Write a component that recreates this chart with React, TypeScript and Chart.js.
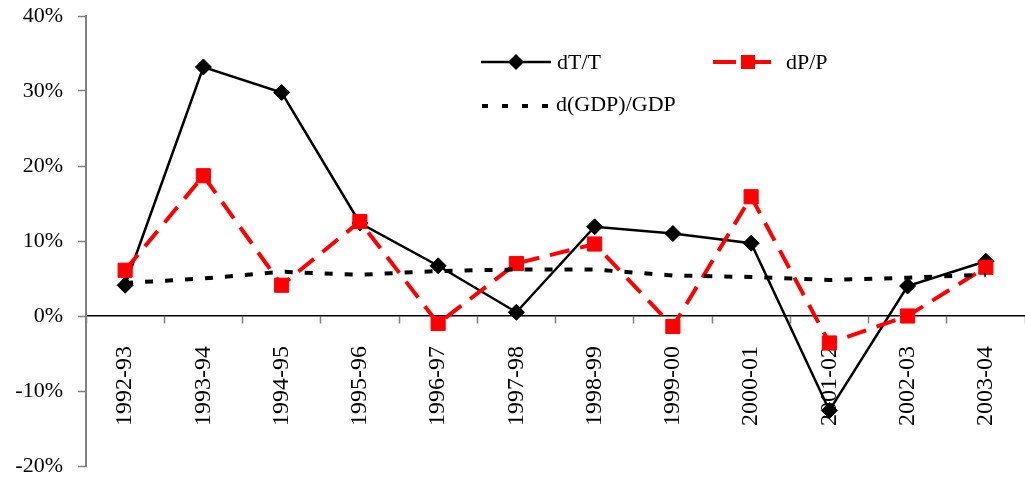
import React, { useEffect, useRef } from "react";
import { Chart, registerables } from "chart.js";

Chart.register(...registerables);

const categories = [
  "1992-93", "1993-94", "1994-95", "1995-96", "1996-97", "1997-98",
  "1998-99", "1999-00", "2000-01", "2001-02", "2002-03", "2003-04",
];
const dTT = [4.1, 33.2, 29.8, 12.4, 6.7, 0.5, 11.9, 11.0, 9.7, -12.6, 4.0, 7.3];
const dPP = [6.1, 18.7, 4.1, 12.6, -1.0, 7.0, 9.6, -1.4, 15.9, -3.6, 0.0, 6.5];
const dGDP = [4.4, 5.0, 5.9, 5.5, 6.0, 6.2, 6.2, 5.4, 5.2, 4.8, 5.1, 5.5];
const yMin = -20;
const yMax = 40;
const yStep = 10;
const legendLabels = ["dT/T", "dP/P", "d(GDP)/GDP"];

const FONT = "'Liberation Serif', 'Times New Roman', serif";

const legendPlugin = {
  id: "customLegend",
  afterDraw(chart: any) {
    const ctx = chart.ctx as CanvasRenderingContext2D;
    ctx.save();
    ctx.font = `22px ${FONT}`;
    ctx.fillStyle = "#000";
    ctx.textBaseline = "middle";
    ctx.textAlign = "left";

    // dT/T
    const y1 = 62;
    ctx.strokeStyle = "#000";
    ctx.lineWidth = 2.5;
    ctx.beginPath();
    ctx.moveTo(481, y1);
    ctx.lineTo(551, y1);
    ctx.stroke();
    ctx.fillStyle = "#000";
    ctx.beginPath();
    ctx.moveTo(516, y1 - 8);
    ctx.lineTo(524, y1);
    ctx.lineTo(516, y1 + 8);
    ctx.lineTo(508, y1);
    ctx.closePath();
    ctx.fill();
    ctx.fillText(legendLabels[0], 557, y1 + 1);

    // dP/P
    ctx.strokeStyle = "#ff0000";
    ctx.lineWidth = 4;
    ctx.beginPath();
    ctx.moveTo(713, y1);
    ctx.lineTo(736, y1);
    ctx.moveTo(755, y1);
    ctx.lineTo(771, y1);
    ctx.stroke();
    ctx.fillStyle = "#ff0000";
    ctx.fillRect(741, y1 - 7, 14, 14);
    ctx.fillStyle = "#000";
    ctx.fillText(legendLabels[1], 786, y1 + 1);

    // d(GDP)/GDP
    const y2 = 106;
    ctx.strokeStyle = "#000";
    ctx.lineWidth = 4;
    ctx.setLineDash([6, 14]);
    ctx.beginPath();
    ctx.moveTo(482, y2);
    ctx.lineTo(548, y2);
    ctx.stroke();
    ctx.setLineDash([]);
    ctx.fillText(legendLabels[2], 556, y2 - 1);
    ctx.restore();
  },
};

export default function App() {
  const ref = useRef<HTMLCanvasElement | null>(null);

  useEffect(() => {
    document.body.style.margin = "0";
    const canvas = ref.current;
    if (!canvas) return;
    const chart = new Chart(canvas, {
      type: "line",
      data: {
        labels: categories,
        datasets: [
          {
            label: legendLabels[0],
            data: dTT,
            borderColor: "#000",
            backgroundColor: "#000",
            borderWidth: 2.5,
            pointStyle: "rectRot",
            pointRadius: 8,
            pointBorderWidth: 1,
            pointBackgroundColor: "#000",
            pointBorderColor: "#000",
            tension: 0,
            order: 3,
          },
          {
            label: legendLabels[1],
            data: dPP,
            borderColor: "#ff0000",
            backgroundColor: "#ff0000",
            borderWidth: 4,
            borderDash: [20, 11],
            pointStyle: "rect",
            pointRadius: 10,
            pointBorderWidth: 1,
            pointBackgroundColor: "#ff0000",
            pointBorderColor: "#ff0000",
            tension: 0,
            order: 2,
          },
          {
            label: legendLabels[2],
            data: dGDP,
            borderColor: "#000",
            backgroundColor: "#000",
            borderWidth: 4,
            borderDash: [8, 12],
            borderCapStyle: "butt",
            pointRadius: 0,
            tension: 0,
            order: 1,
          },
        ],
      },
      options: {
        animation: false,
        responsive: false,
        maintainAspectRatio: false,
        layout: { autoPadding: false, padding: { top: 16, bottom: 13, left: 0, right: 0 } },
        plugins: {
          legend: { display: false },
          tooltip: { enabled: false },
        },
        scales: {
          x: {
            type: "category",
            position: { y: 0 } as any,
            offset: true,
            afterFit(scale: any) {
              scale.paddingTop = 0;
              scale.paddingBottom = 0;
              scale.paddingLeft = 0;
              scale.paddingRight = 0;
            },
            grid: {
              offset: true,
              drawOnChartArea: false,
              drawTicks: true,
              tickLength: 7,
              tickColor: "#808080",
              tickWidth: 1.5,
            },
            border: { color: "#000", width: 1.5 },
            ticks: {
              autoSkip: false,
              minRotation: 90,
              maxRotation: 90,
              padding: 23,
              color: "#000",
              font: { family: FONT, size: 24 },
            },
          },
          y: {
            type: "linear",
            min: yMin,
            max: yMax,
            afterFit(scale: any) {
              scale.width = 86;
              scale.paddingTop = 0;
              scale.paddingBottom = 0;
            },
            grid: {
              drawOnChartArea: false,
              drawTicks: true,
              tickLength: 8,
              tickColor: "#808080",
              tickWidth: 1.5,
            },
            border: { color: "#808080", width: 2 },
            ticks: {
              stepSize: yStep,
              padding: 15,
              color: "#000",
              font: { family: FONT, size: 22 },
              callback: (v: any) => `${v}%`,
            },
          },
        },
      },
      plugins: [legendPlugin],
    });
    return () => chart.destroy();
  }, []);

  return (
    <div style={{ width: 1025, height: 479, background: "#fff" }}>
      <canvas ref={ref} width={1025} height={479} style={{ display: "block" }} />
    </div>
  );
}
